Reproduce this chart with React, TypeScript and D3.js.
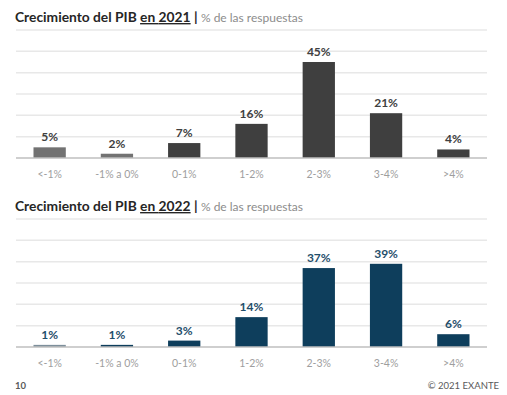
import * as d3 from 'd3'

const categories = ['<-1%', '-1% a 0%', '0-1%', '1-2%', '2-3%', '3-4%', '>4%']
const values2021 = [5, 2, 7, 16, 45, 21, 4]
const values2022 = [1, 1, 3, 14, 37, 39, 6]
const gridTicks = [0, 10, 20, 30, 40, 50, 60]

const WIDTH = 507
const HEIGHT = 395
const FONT = 'Lato, "Open Sans", sans-serif'

interface PanelProps {
  year: string
  values: number[]
  top: number
  bottom: number
  titleY: number
  barColor: (i: number) => string
  labelColor: string
}

function Panel({ year, values, top, bottom, titleY, barColor, labelColor }: PanelProps) {
  const x = d3.scaleBand<string>().domain(categories).range([16, 487]).paddingInner(0.52).paddingOuter(0.26)
  const y = d3.scaleLinear().domain([0, 60]).range([bottom, top])

  return (
    <g>
      <text x={15} y={titleY} fontFamily={FONT} fontSize={13.8} fontWeight={700} fill="#262626">
        <tspan>Crecimiento del PIB </tspan>
        <tspan textDecoration="underline">en {year}</tspan>
        <tspan> | </tspan>
        <tspan fontWeight={400} fontSize={12} fill="#8c8c8c">% de las respuestas</tspan>
      </text>
      {gridTicks.slice(1).map(t => (
        <line key={t} x1={16} x2={487} y1={y(t)} y2={y(t)} stroke="#e8e8e8" strokeWidth={1.5} />
      ))}
      {values.map((v, i) => (
        <rect
          key={categories[i]}
          x={x(categories[i])}
          y={y(v)}
          width={x.bandwidth()}
          height={bottom - y(v)}
          fill={barColor(i)}
        />
      ))}
      <line x1={16} x2={487} y1={bottom} y2={bottom} stroke="#bfbfbf" strokeWidth={1.5} />
      {values.map((v, i) => (
        <text
          key={'l' + i}
          x={(x(categories[i]) ?? 0) + x.bandwidth() / 2}
          y={y(v) - 6}
          textAnchor="middle"
          fontFamily={FONT}
          fontSize={12}
          fontWeight={700}
          fill={labelColor}
        >
          {v}%
        </text>
      ))}
      {categories.map(c => (
        <text
          key={'t' + c}
          x={(x(c) ?? 0) + x.bandwidth() / 2}
          y={bottom + 19.5}
          textAnchor="middle"
          fontFamily={FONT}
          fontSize={10.5}
          fill="#9e9e9e"
        >
          {c}
        </text>
      ))}
    </g>
  )
}

export default function App() {
  return (
    <div style={{ position: 'absolute', left: 0, top: 0 }}>
      <svg width={WIDTH} height={HEIGHT} style={{ display: 'block', background: '#fff' }}>
        <Panel
          year="2021"
          values={values2021}
          top={30}
          bottom={158}
          titleY={22}
          barColor={i => (i < 2 ? '#727272' : '#3f3f3f')}
          labelColor="#404040"
        />
        <Panel
          year="2022"
          values={values2022}
          top={219}
          bottom={347}
          titleY={211}
          barColor={i => (i === 0 ? '#7d8f9b' : '#0e3e5c')}
          labelColor="#1f4e6b"
        />
        <text x={15} y={389} fontFamily={FONT} fontSize={9.5} fontWeight={700} fill="#595959">10</text>
        <text x={499} y={389} textAnchor="end" fontFamily={FONT} fontSize={9.5} fill="#595959">© 2021 EXANTE</text>
      </svg>
    </div>
  )
}
